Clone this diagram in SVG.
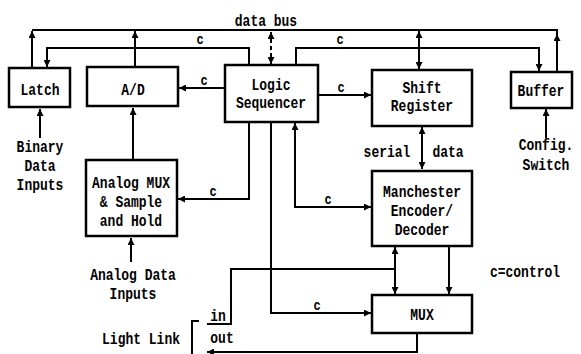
<svg xmlns="http://www.w3.org/2000/svg" width="581" height="354" viewBox="0 0 581 354">
<style>
.box{fill:#fff;stroke:#000;stroke-width:2.5}
.ln{fill:none;stroke:#000;stroke-width:2}
.t{font-family:"Liberation Mono","DejaVu Sans Mono",monospace;font-weight:bold;font-size:13px;fill:#000;text-anchor:middle}
.c{font-family:"Liberation Mono","DejaVu Sans Mono",monospace;font-weight:bold;font-size:12px;fill:#000;text-anchor:middle}
</style>
<defs>
<marker id="ah" viewBox="0 0 10 10" refX="10" refY="5" markerWidth="8" markerHeight="7" markerUnits="userSpaceOnUse" orient="auto-start-reverse">
<path d="M0,0 L10,5 L0,10 z" fill="#000"/>
</marker>
</defs>
<rect width="581" height="354" fill="#fff"/>
<g id="connectors">
<path class="ln" d="M32,30 H557 V36"/>
<path class="ln" d="M32,68 V31" marker-end="url(#ah)"/>
<path class="ln" d="M135,67 V31" marker-end="url(#ah)"/>
<path class="ln" d="M557,71 V34" marker-end="url(#ah)"/>
<path class="ln" d="M249,65 V48 H47 V67" marker-end="url(#ah)"/>
<path class="ln" d="M296,65 V48 H539 V71" marker-end="url(#ah)"/>
<path class="ln" d="M271,32 V64" stroke-dasharray="4,3" marker-start="url(#ah)" marker-end="url(#ah)"/>
<path class="ln" d="M419,31 V69" marker-start="url(#ah)" marker-end="url(#ah)"/>
<path class="ln" d="M225,88 H179" marker-end="url(#ah)"/>
<path class="ln" d="M318,95 H371" marker-end="url(#ah)"/>
<path class="ln" d="M40,138 V109" marker-end="url(#ah)"/>
<path class="ln" d="M133,160 V108" marker-end="url(#ah)"/>
<path class="ln" d="M249,122 V199 H178" marker-end="url(#ah)"/>
<path class="ln" d="M131,262 V238" marker-end="url(#ah)"/>
<path class="ln" d="M422,127 V169" marker-start="url(#ah)" marker-end="url(#ah)"/>
<path class="ln" d="M546,138 V109" marker-end="url(#ah)"/>
<path class="ln" d="M295,123 V207 H371" marker-start="url(#ah)" marker-end="url(#ah)"/>
<path class="ln" d="M271,122 V313 H371" marker-end="url(#ah)"/>
<path class="ln" d="M395,247 V294" marker-start="url(#ah)" marker-end="url(#ah)"/>
<path class="ln" d="M207,324 H231 V269 H395"/>
<path class="ln" d="M449,246 V294" marker-end="url(#ah)"/>
<path class="ln" d="M417,333 V352 H207" marker-end="url(#ah)"/>
<path class="ln" d="M199,321 H192 V354"/>
<text class="c" transform="translate(200,44) scale(1,1.2)">c</text>
<text class="c" transform="translate(340,44) scale(1,1.2)">c</text>
<text class="c" transform="translate(204,85) scale(1,1.2)">c</text>
<text class="c" transform="translate(341,92) scale(1,1.2)">c</text>
<text class="c" transform="translate(213,196) scale(1,1.2)">c</text>
<text class="c" transform="translate(328,204) scale(1,1.2)">c</text>
<text class="c" transform="translate(317,310) scale(1,1.2)">c</text>
<text class="t" transform="translate(266,26) scale(1,1.2)">data bus</text>
<text class="t" transform="translate(387,157) scale(1,1.2)">serial</text>
<text class="t" transform="translate(448,157) scale(1,1.2)">data</text>
<text class="t" transform="translate(218,321) scale(1,1.2)">in</text>
<text class="t" transform="translate(222,343) scale(1,1.2)">out</text>
</g>
<g id="latch">
<rect class="box" x="9" y="68" width="61" height="39"/>
<text class="t" transform="translate(40,95) scale(1,1.2)">Latch</text>
</g>
<g id="ad">
<rect class="box" x="87" y="67" width="91" height="39"/>
<text class="t" transform="translate(133,95) scale(1,1.2)">A/D</text>
</g>
<g id="logic">
<rect class="box" x="225" y="65" width="93" height="57"/>
<text class="t" transform="translate(271,90) scale(1,1.2)">Logic</text>
<text class="t" transform="translate(271,108) scale(1,1.2)">Sequencer</text>
</g>
<g id="shift">
<rect class="box" x="372" y="70" width="100" height="56"/>
<text class="t" transform="translate(422,93) scale(1,1.2)">Shift</text>
<text class="t" transform="translate(422,111) scale(1,1.2)">Register</text>
</g>
<g id="buffer">
<rect class="box" x="511" y="72" width="61" height="36"/>
<text class="t" transform="translate(541,96) scale(1,1.2)">Buffer</text>
</g>
<g id="analogmux">
<rect class="box" x="86" y="160" width="91" height="76"/>
<text class="t" transform="translate(131,188) scale(1,1.2)">Analog MUX</text>
<text class="t" transform="translate(131,207) scale(1,1.2)">&amp; Sample</text>
<text class="t" transform="translate(131,226) scale(1,1.2)">and Hold</text>
</g>
<g id="manchester">
<rect class="box" x="372" y="171" width="100" height="75"/>
<text class="t" transform="translate(422,197) scale(1,1.2)">Manchester</text>
<text class="t" transform="translate(422,216) scale(1,1.2)">Encoder/</text>
<text class="t" transform="translate(422,235) scale(1,1.2)">Decoder</text>
</g>
<g id="mux">
<rect class="box" x="372" y="295" width="100" height="38"/>
<text class="t" transform="translate(422,320) scale(1,1.2)">MUX</text>
</g>
<g id="labels">
<text class="t" transform="translate(40,152) scale(1,1.2)">Binary</text>
<text class="t" transform="translate(40,171) scale(1,1.2)">Data</text>
<text class="t" transform="translate(40,190) scale(1,1.2)">Inputs</text>
<text class="t" transform="translate(546,150) scale(1,1.2)">Config.</text>
<text class="t" transform="translate(546,170) scale(1,1.2)">Switch</text>
<text class="t" transform="translate(133,280) scale(1,1.2)">Analog Data</text>
<text class="t" transform="translate(133,299) scale(1,1.2)">Inputs</text>
<text class="t" transform="translate(141,344) scale(1,1.2)">Light Link</text>
<text class="t" transform="translate(525,277) scale(1,1.2)">c=control</text>
</g>
</svg>
